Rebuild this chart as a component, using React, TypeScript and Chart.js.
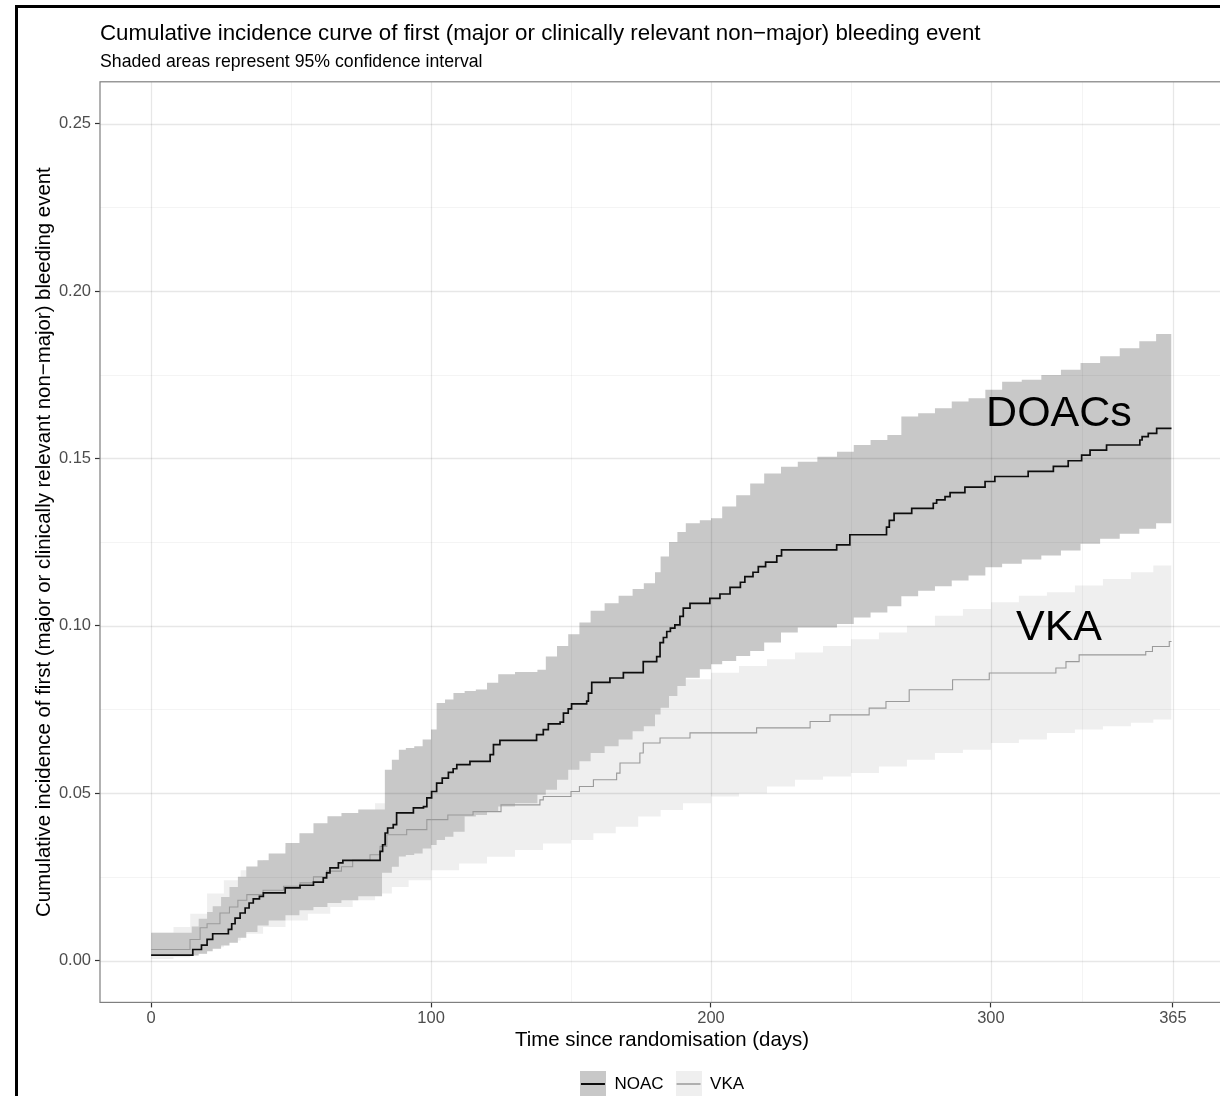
import React, { useEffect, useRef } from 'react';
import { Chart, registerables } from 'chart.js';

Chart.register(...registerables);

const FONT = '"Liberation Sans", Arial, Helvetica, sans-serif';

// ---- Data ----
const noacTimes = [0, 14.9, 18, 20, 22, 27.6, 28.8, 30, 31.8, 33.6, 35, 36.5, 38.7, 40.1, 47.9, 53.2, 58, 61.5, 62.7, 63.9, 66.9, 68.5, 81.8, 82.7, 83.6, 84.5, 86.5, 87.7, 93.7, 97.3, 98.5, 100.2, 102, 104, 106.2, 107.9, 109.2, 113.9, 121.1, 122.3, 124.6, 137.7, 140.1, 141.9, 146.1, 147.3, 149, 150.2, 155.6, 156.2, 157.4, 163.9, 168.7, 175.8, 180.6, 181.8, 183, 184.2, 185.5, 187.1, 188.9, 190.1, 192.5, 199.6, 203.2, 206.8, 210.5, 212.1, 215, 216.9, 219.5, 223.5, 225.2, 244.9, 249.6, 262.7, 263.7, 265.4, 271.7, 279.4, 280.6, 283.6, 285.4, 290.7, 297.9, 301.4, 313.3, 322.3, 327.6, 332.4, 335.4, 341.3, 353.2, 354, 356.2, 359.2, 364.5];
const noacEst = [0.0016, 0.0033, 0.0046, 0.0063, 0.008, 0.0093, 0.011, 0.0127, 0.0142, 0.0157, 0.0172, 0.0184, 0.0192, 0.0202, 0.0217, 0.0225, 0.0234, 0.0247, 0.0262, 0.0277, 0.0292, 0.0299, 0.0326, 0.0346, 0.0381, 0.0396, 0.0406, 0.0441, 0.0456, 0.046, 0.0486, 0.0505, 0.053, 0.0545, 0.0562, 0.0573, 0.0585, 0.0595, 0.0615, 0.0645, 0.0658, 0.0675, 0.069, 0.0707, 0.0712, 0.0739, 0.0752, 0.0767, 0.0775, 0.0799, 0.0831, 0.0844, 0.086, 0.0893, 0.0908, 0.095, 0.0965, 0.0983, 0.0993, 0.1003, 0.1028, 0.1053, 0.1067, 0.1082, 0.1095, 0.1115, 0.113, 0.1147, 0.116, 0.1177, 0.119, 0.1209, 0.1227, 0.1242, 0.1272, 0.1295, 0.1315, 0.1336, 0.1351, 0.1366, 0.1376, 0.1386, 0.1398, 0.1414, 0.1431, 0.1446, 0.1461, 0.1476, 0.1493, 0.151, 0.1525, 0.154, 0.1555, 0.1565, 0.1575, 0.159, 0.159];

const noacBandTimes = [0, 14.5, 17, 20, 22, 25, 28, 31, 34, 38, 42, 48, 53, 58, 63, 68, 74, 82.5, 83.5, 86, 88.5, 91, 94, 97, 100, 102, 105, 108, 112, 116, 120, 124, 130, 138, 141, 145, 149, 153, 157, 162, 167, 172, 176, 180, 182, 185, 188, 191, 196, 200, 204, 209, 214, 219, 225, 231, 238, 245, 251, 257, 263, 268, 274, 280, 286, 292, 298, 304, 311, 318, 325, 332, 339, 346, 353, 359, 364.5];
const noacUpper = [0.0083, 0.0102, 0.0125, 0.0145, 0.0162, 0.019, 0.022, 0.025, 0.0281, 0.030, 0.032, 0.0351, 0.038, 0.041, 0.0431, 0.0441, 0.0451, 0.0451, 0.057, 0.060, 0.063, 0.0635, 0.064, 0.066, 0.069, 0.0769, 0.078, 0.0799, 0.0805, 0.081, 0.083, 0.0855, 0.0862, 0.0869, 0.0908, 0.094, 0.0975, 0.101, 0.1045, 0.1067, 0.109, 0.111, 0.1127, 0.116, 0.1207, 0.125, 0.128, 0.1306, 0.1315, 0.1321, 0.1356, 0.139, 0.1425, 0.1455, 0.1475, 0.149, 0.1505, 0.152, 0.154, 0.1555, 0.157, 0.1625, 0.1635, 0.165, 0.167, 0.168, 0.1705, 0.1729, 0.1735, 0.1749, 0.1765, 0.1785, 0.1805, 0.1829, 0.185, 0.1872, 0.1884];
const noacLower = [0.0018, 0.0015, 0.002, 0.0028, 0.0035, 0.0045, 0.0053, 0.0068, 0.0085, 0.0105, 0.012, 0.0135, 0.015, 0.016, 0.0172, 0.018, 0.0192, 0.0262, 0.0262, 0.028, 0.0311, 0.0315, 0.032, 0.0335, 0.0345, 0.036, 0.037, 0.0385, 0.043, 0.0435, 0.0445, 0.046, 0.047, 0.0495, 0.051, 0.054, 0.057, 0.0595, 0.062, 0.064, 0.066, 0.0685, 0.07, 0.0735, 0.0755, 0.079, 0.082, 0.0845, 0.087, 0.0885, 0.0895, 0.091, 0.0925, 0.095, 0.098, 0.0995, 0.0995, 0.1005, 0.1025, 0.104, 0.1058, 0.1088, 0.1105, 0.1118, 0.1135, 0.115, 0.1175, 0.1185, 0.1198, 0.121, 0.1225, 0.1245, 0.126, 0.1275, 0.129, 0.1306, 0.1316];

const vkaTimes = [0, 13.9, 17.5, 20, 24.6, 28, 31, 34.2, 40, 47.3, 53.2, 58, 62.7, 68, 72, 78.2, 81.8, 84.2, 91.3, 98.5, 106, 115, 125, 138.9, 140.1, 150, 153, 158, 166.3, 167.5, 174.6, 175.8, 181.8, 192.5, 216.3, 235.4, 242.5, 256.5, 262.5, 270.8, 286.3, 299.4, 323.2, 326.8, 331.5, 355.3, 357.7, 363.7, 364.5];
const vkaEst = [0.0033, 0.0063, 0.0098, 0.011, 0.0142, 0.016, 0.018, 0.0197, 0.021, 0.0222, 0.0232, 0.025, 0.0267, 0.028, 0.03, 0.0316, 0.0341, 0.0376, 0.0391, 0.0421, 0.0435, 0.0445, 0.0465, 0.048, 0.049, 0.0505, 0.052, 0.054, 0.056, 0.059, 0.062, 0.065, 0.0665, 0.068, 0.0695, 0.0714, 0.0734, 0.0754, 0.0774, 0.0809, 0.0839, 0.0859, 0.0874, 0.0893, 0.0913, 0.0923, 0.0938, 0.0953, 0.0953];

const vkaBandTimes = [0, 8, 14, 20, 26, 32, 40, 48, 56, 64, 72, 80, 86, 92, 100, 110, 120, 130, 140, 150, 158, 166, 174, 182, 190, 200, 210, 220, 230, 240, 250, 260, 270, 280, 290, 300, 310, 320, 330, 340, 350, 358, 364.5];
const vkaUpper = [0.0083, 0.010, 0.014, 0.020, 0.024, 0.027, 0.030, 0.034, 0.037, 0.040, 0.043, 0.047, 0.051, 0.054, 0.057, 0.060, 0.062, 0.063, 0.065, 0.068, 0.072, 0.075, 0.079, 0.082, 0.084, 0.086, 0.088, 0.090, 0.092, 0.094, 0.096, 0.098, 0.100, 0.103, 0.105, 0.107, 0.109, 0.110, 0.112, 0.114, 0.116, 0.118, 0.120];
const vkaLower = [0.0005, 0.001, 0.002, 0.004, 0.006, 0.008, 0.010, 0.012, 0.014, 0.016, 0.018, 0.020, 0.022, 0.024, 0.027, 0.029, 0.031, 0.033, 0.035, 0.036, 0.038, 0.040, 0.043, 0.045, 0.047, 0.049, 0.050, 0.052, 0.054, 0.055, 0.056, 0.058, 0.060, 0.062, 0.063, 0.065, 0.066, 0.068, 0.069, 0.070, 0.071, 0.072, 0.0735];

const xTickValues = [0, 50, 100, 150, 200, 250, 300, 332.5, 365];
const xLabelValues = [0, 100, 200, 300, 365];
const yTickValues = [0, 0.025, 0.05, 0.075, 0.1, 0.125, 0.15, 0.175, 0.2, 0.225, 0.25];

const seriesNames = ['NOAC', 'VKA'];
const annotationLabels = [
  { text: 'DOACs', x: 324.3, y: 0.1597 },
  { text: 'VKA', x: 324.3, y: 0.0959 },
];

const TITLE = 'Cumulative incidence curve of first (major or clinically relevant non\u2212major) bleeding event';
const SUBTITLE = 'Shaded areas represent 95% confidence interval';
const Y_TITLE = 'Cumulative incidence of first (major or clinically relevant non\u2212major) bleeding event';
const X_TITLE = 'Time since randomisation (days)';

// ---- Styles ----
const NOAC_FILL = '#c8c8c8';
const VKA_FILL = 'rgba(120,120,120,0.12)';
const NOAC_LINE = '#0d0d0d';
const VKA_LINE = '#9a9a9a';
const GRID_MAJOR = 'rgba(0,0,0,0.095)';
const GRID_MINOR = 'rgba(0,0,0,0.05)';

const VKA_LINE_INDEX = 1;

const pts = (xs: number[], ys: number[]) => xs.map((x, i) => ({ x, y: ys[i] }));
const isMajorX = (v: number) => xLabelValues.includes(v);
const isMajorY = (v: number) => Math.abs(v * 20 - Math.round(v * 20)) < 1e-6;

function makeKey(fill: string, line: string, lw: number) {
  const c = document.createElement('canvas');
  c.width = 26;
  c.height = 26;
  const g = c.getContext('2d')!;
  g.fillStyle = fill;
  g.fillRect(0, 0, 26, 26);
  g.strokeStyle = line;
  g.lineWidth = lw;
  g.beginPath();
  g.moveTo(1, 13);
  g.lineTo(25, 13);
  g.stroke();
  return c;
}

// Grid lines painted translucently over the ribbons (as in the reference), under the curves.
const gridOverlayPlugin = {
  id: 'gridOverlay',
  beforeDatasetDraw(chart: any, args: any) {
    if (args.index !== VKA_LINE_INDEX) return;
    const { ctx, chartArea: a, scales } = chart;
    ctx.save();
    ctx.beginPath();
    ctx.rect(a.left, a.top, a.right - a.left, a.bottom - a.top);
    ctx.clip();
    xTickValues.forEach((v) => {
      const px = Math.round(scales.x.getPixelForValue(v)) + 0.5;
      ctx.strokeStyle = isMajorX(v) ? GRID_MAJOR : GRID_MINOR;
      ctx.lineWidth = isMajorX(v) ? 1.3 : 0.9;
      ctx.beginPath();
      ctx.moveTo(px, a.top);
      ctx.lineTo(px, a.bottom);
      ctx.stroke();
    });
    yTickValues.forEach((v) => {
      const py = Math.round(scales.y.getPixelForValue(v)) + 0.5;
      ctx.strokeStyle = isMajorY(v) ? GRID_MAJOR : GRID_MINOR;
      ctx.lineWidth = isMajorY(v) ? 1.3 : 0.9;
      ctx.beginPath();
      ctx.moveTo(a.left, py);
      ctx.lineTo(a.right, py);
      ctx.stroke();
    });
    ctx.restore();
  },
};

const overlayPlugin = {
  id: 'overlay',
  afterDatasetsDraw(chart: any) {
    const { ctx, chartArea: a, scales } = chart;
    ctx.save();
    ctx.fillStyle = '#000';
    ctx.font = `43px ${FONT}`;
    ctx.textAlign = 'center';
    ctx.textBaseline = 'alphabetic';
    annotationLabels.forEach((l) => {
      ctx.fillText(l.text, scales.x.getPixelForValue(l.x), scales.y.getPixelForValue(l.y));
    });
    ctx.strokeStyle = '#7f7f7f';
    ctx.lineWidth = 1.2;
    ctx.strokeRect(a.left, a.top, a.right - a.left, a.bottom - a.top);
    ctx.restore();
  },
};

export default function App() {
  const ref = useRef<HTMLCanvasElement>(null);

  useEffect(() => {
    const canvas = ref.current;
    if (!canvas) return;
    const keyNoac = makeKey(NOAC_FILL, NOAC_LINE, 2);
    const keyVka = makeKey(VKA_FILL, VKA_LINE, 1.5);
    const band = { stepped: true, borderColor: 'rgba(0,0,0,0)', borderWidth: 0, pointRadius: 0 };

    const chart = new Chart(canvas, {
      type: 'line',
      data: {
        datasets: [
          { label: 'NOAC', data: pts(noacTimes, noacEst), stepped: true, borderColor: NOAC_LINE, borderWidth: 1.7, pointRadius: 0, fill: false },
          { label: 'VKA', data: pts(vkaTimes, vkaEst), stepped: true, borderColor: VKA_LINE, borderWidth: 1.1, pointRadius: 0, fill: false },
          { label: 'NOAC upper', data: pts(noacBandTimes, noacUpper), ...band, backgroundColor: NOAC_FILL, fill: '+1' },
          { label: 'NOAC lower', data: pts(noacBandTimes, noacLower), ...band, fill: false },
          { label: 'VKA upper', data: pts(vkaBandTimes, vkaUpper), ...band, backgroundColor: VKA_FILL, fill: '+1' },
          { label: 'VKA lower', data: pts(vkaBandTimes, vkaLower), ...band, fill: false },
        ],
      },
      options: {
        responsive: false,
        animation: false,
        devicePixelRatio: 1,
        events: [],
        layout: { padding: { left: 14.3, right: 4, top: 0, bottom: 5.5 } },
        plugins: {
          filler: { drawTime: 'beforeDatasetDraw' },
          tooltip: { enabled: false },
          title: {
            display: true, text: TITLE, align: 'start', fullSize: false, color: '#000',
            font: { family: FONT, size: 22.3, weight: 'normal' },
            padding: { top: 12.6, bottom: 4 },
          },
          subtitle: {
            display: true, text: SUBTITLE, align: 'start', fullSize: false, color: '#000',
            font: { family: FONT, size: 17.7, weight: 'normal' },
            padding: { top: 0, bottom: 9.2 },
          },
          legend: {
            display: true, position: 'bottom', fullSize: false,
            labels: {
              usePointStyle: true, pointStyleWidth: 26, boxHeight: 17, padding: 12,
              color: '#1a1a1a', font: { family: FONT, size: 17 },
              generateLabels: () => [
                { text: seriesNames[0], pointStyle: keyNoac, fillStyle: NOAC_FILL, strokeStyle: NOAC_LINE, lineWidth: 0, hidden: false, datasetIndex: 0 },
                { text: seriesNames[1], pointStyle: keyVka, fillStyle: VKA_FILL, strokeStyle: VKA_LINE, lineWidth: 0, hidden: false, datasetIndex: 1 },
              ] as any,
            },
          },
        },
        scales: {
          x: {
            type: 'linear', min: -18.25, max: 383.25,
            afterBuildTicks: (s: any) => { s.ticks = xTickValues.map((v) => ({ value: v })); },
            afterFit: (s: any) => { s.height = 61.1; },
            border: { display: false },
            grid: {
              drawOnChartArea: false,
              tickColor: (c: any) => (c.tick && isMajorX(c.tick.value) ? '#333333' : 'rgba(0,0,0,0)'),
              tickLength: 5, tickWidth: 1.2, drawTicks: true,
            },
            ticks: {
              autoSkip: false, maxRotation: 0, minRotation: 0, padding: 1, color: '#4d4d4d',
              font: { family: FONT, size: 16.5 },
              callback: (v: any) => (isMajorX(Number(v)) ? String(v) : ''),
            },
            title: { display: true, text: X_TITLE, color: '#000', font: { family: FONT, size: 20.4 }, padding: { top: 0, bottom: 11.3 } },
          },
          y: {
            type: 'linear', min: -0.0125, max: 0.2625,
            afterBuildTicks: (s: any) => { s.ticks = yTickValues.map((v) => ({ value: v })); },
            afterFit: (s: any) => { s.width = 67.7; },
            border: { display: false },
            grid: {
              drawOnChartArea: false,
              tickColor: (c: any) => (c.tick && isMajorY(c.tick.value) ? '#333333' : 'rgba(0,0,0,0)'),
              tickLength: 5, tickWidth: 1.2, drawTicks: true,
            },
            ticks: {
              padding: 4, color: '#4d4d4d', font: { family: FONT, size: 16.5 },
              callback: (v: any) => (isMajorY(Number(v)) ? Number(v).toFixed(2) : ''),
            },
            title: { display: true, text: Y_TITLE, color: '#000', font: { family: FONT, size: 20.4 }, padding: { top: 0, bottom: 0 } },
          },
        },
      } as any,
      plugins: [gridOverlayPlugin, overlayPlugin],
    });
    return () => chart.destroy();
  }, []);

  return (
    <div style={{ position: 'absolute', left: 0, top: 0, width: 1220, height: 1096, overflow: 'hidden', background: '#fff' }}>
      <div style={{ position: 'absolute', left: 15, top: 5, width: 1400, height: 1400, borderLeft: '3px solid #000', borderTop: '3px solid #000' }} />
      <canvas ref={ref} width={1210} height={1100} style={{ position: 'absolute', left: 18, top: 8, width: 1210, height: 1100 }} />
    </div>
  );
}
